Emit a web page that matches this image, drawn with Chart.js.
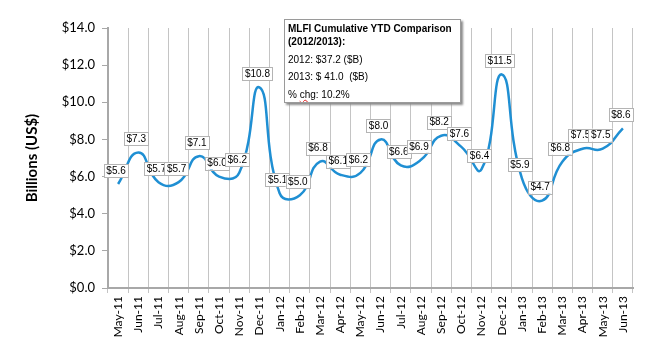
<!DOCTYPE html>
<html>
<head>
<meta charset="utf-8">
<script src="https://cdn.jsdelivr.net/npm/chart.js@4/dist/chart.umd.min.js"></script>
<style>
  html, body { margin: 0; padding: 0; background: #fff; }
  #wrap { position: relative; width: 650px; height: 350px; }
  #summary {
    position: absolute; left: 284px; top: 19px; width: 177px; height: 84px;
    box-sizing: border-box; overflow: hidden; white-space: nowrap;
    border: 1px solid #9a9a9a; background: #fff;
    box-shadow: 2px 2px 2px #8c8c8c;
    font-family: "Liberation Sans", Arial, sans-serif; font-size: 10px; color: #000;
    padding: 2px 3px;
  }
  #summary .t { font-weight: bold; line-height: 13px; }
  #summary .r { margin-top: 4.5px; line-height: 13px; }
  #summary .sq { text-decoration: underline wavy #e02020; }
</style>
</head>
<body>
<div id="wrap">
  <canvas id="chart" width="650" height="350"></canvas>
  <div id="summary">
    <div class="t">MLFI Cumulative YTD Comparison<br>(2012/2013):</div>
    <div class="r">2012: $37.2 ($B)</div>
    <div class="r">2013: $ 41.0&nbsp; ($B)</div>
    <div class="r">% <span class="sq">chg</span>: 10.2%</div>
  </div>
</div>
<script>
// --- Data ---
const months = ['May-11', 'Jun-11', 'Jul-11', 'Aug-11', 'Sep-11', 'Oct-11', 'Nov-11', 'Dec-11',
  'Jan-12', 'Feb-12', 'Mar-12', 'Apr-12', 'May-12', 'Jun-12', 'Jul-12', 'Aug-12', 'Sep-12',
  'Oct-12', 'Nov-12', 'Dec-12', 'Jan-13', 'Feb-13', 'Mar-13', 'Apr-13', 'May-13', 'Jun-13'];
const volumes = [5.6, 7.3, 5.7, 5.7, 7.1, 6.0, 6.2, 10.8, 5.1, 5.0, 6.8, 6.1, 6.2, 8.0, 6.6,
  6.9, 8.2, 7.6, 6.4, 11.5, 5.9, 4.7, 6.8, 7.5, 7.5, 8.6];
const yTicks = [0, 2, 4, 6, 8, 10, 12, 14];

const money = v => '$' + Number(v).toFixed(1);

// boxed value labels above each point
const valueLabels = {
  id: 'valueLabels',
  afterDatasetsDraw(chart) {
    const ctx = chart.ctx;
    const meta = chart.getDatasetMeta(0);
    ctx.save();
    ctx.font = '10px "Liberation Sans", Arial, sans-serif';
    ctx.textAlign = 'center';
    ctx.textBaseline = 'middle';
    meta.data.forEach((pt, i) => {
      const txt = money(volumes[i]);
      const w = ctx.measureText(txt).width + 5;
      const h = 13;
      const bx = pt.x - 2 - w / 2;
      const by = pt.y - 7 - h;
      ctx.fillStyle = '#fff';
      ctx.fillRect(bx, by, w, h);
      ctx.strokeStyle = '#b4b4b4';
      ctx.lineWidth = 1;
      ctx.strokeRect(Math.round(bx) + 0.5, Math.round(by) + 0.5, Math.round(w), h);
      ctx.fillStyle = '#000';
      ctx.fillText(txt, bx + w / 2, by + h / 2 + 0.5);
    });
    ctx.restore();
  }
};

new Chart(document.getElementById('chart'), {
  type: 'line',
  data: {
    labels: months,
    datasets: [{
      data: volumes,
      borderColor: '#1f8fd3',
      borderWidth: 2.5,
      tension: 0.5,
      pointRadius: 0,
      fill: false
    }]
  },
  options: {
    responsive: false,
    animation: false,
    layout: { padding: { top: 28, right: 17, left: 0, bottom: 0 } },
    plugins: { legend: { display: false }, tooltip: { enabled: false } },
    scales: {
      x: {
        offset: true,
        grid: {
          offset: true,
          color: c => (c.index === months.length ? 'rgba(0,0,0,0)' : '#c4c4c4'),
          tickLength: 5
        },
        border: { color: '#a8a8a8', width: 2 },
        ticks: {
          autoSkip: false, minRotation: 90, maxRotation: 90, padding: 3,
          color: '#000', font: { family: 'Lato, "Open Sans", sans-serif', size: 12 }
        },
        afterFit: s => { s.height = 62; }
      },
      y: {
        min: 0, max: 14,
        afterBuildTicks: s => { s.ticks = yTicks.map(v => ({ value: v })); },
        grid: { drawOnChartArea: false, color: '#a8a8a8', tickLength: 6 },
        border: { color: '#a8a8a8', width: 2 },
        ticks: {
          padding: 7, color: '#000', callback: v => money(v),
          font: { family: 'Lato, "Open Sans", sans-serif', size: 13 }
        },
        title: {
          display: true, text: 'Billions (US$)', color: '#000',
          font: { family: 'Lato, "Open Sans", sans-serif', size: 15, weight: 'bold' },
          padding: { top: 23, bottom: 0 }
        },
        afterFit: s => { s.width = 108; }
      }
    }
  },
  plugins: [valueLabels]
});
</script>
</body>
</html>
